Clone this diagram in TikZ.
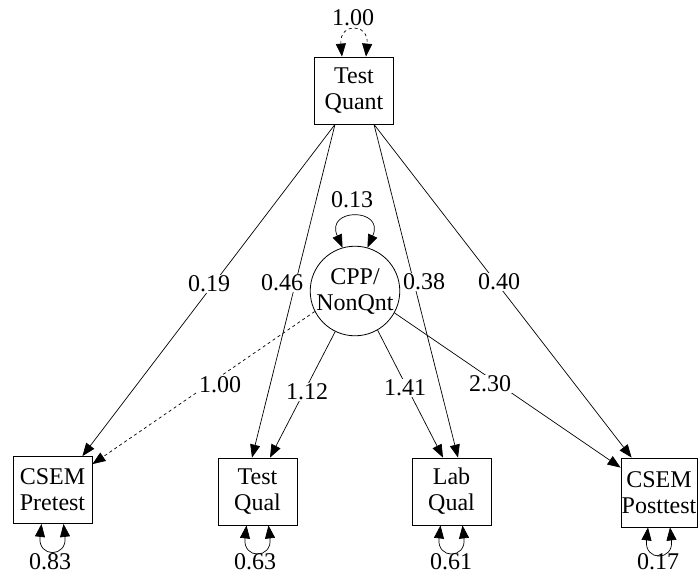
\documentclass[tikz,border=0pt]{standalone}
\usepackage{fontspec}
\setmainfont{Liberation Serif}
\usetikzlibrary{arrows.meta}
\begin{document}
\begin{tikzpicture}[x=1pt,y=-1pt,
  every node/.style={font=\fontsize{24}{26}\selectfont},
  var/.style={draw, line width=0.8pt, align=center, inner sep=0pt,
              minimum width=79pt, minimum height=67pt},
  lat/.style={draw, circle, line width=0.8pt, align=center, inner sep=0pt,
              minimum size=88pt},
  conn/.style={line width=0.7pt, -{Triangle[length=13pt,width=10pt]}},
  varloop/.style={line width=0.7pt,
              {Triangle[length=13pt,width=10pt]}-{Triangle[length=13pt,width=10pt]}},
  fixed/.style={dash pattern=on 3pt off 3pt},
  coef/.style={fill=white, inner sep=1pt},
  loopval/.style={inner sep=0pt}
]
\useasboundingbox (0,0) rectangle (699,574);

% observed and latent variables
\node[var] (tq)   at (354,90.5)  {Test\\Quant};
\node[lat] (cpp)  at (355,291)   {CPP/\\NonQnt};
\node[var] (pre)  at (52.5,490)  {CSEM\\Pretest};
\node[var] (tql)  at (257.5,491.5) {Test\\Qual};
\node[var] (lql)  at (451.5,491.5) {Lab\\Qual};
\node[var, minimum width=76pt, minimum height=69pt] (post) at (659,492.5) {CSEM\\Posttest};

% regression paths from Test Quant
\draw[conn] ([xshift=-19pt]tq.south) -- ([xshift=-10pt]pre.north east);
\draw[conn] ([xshift=-19pt]tq.south) -- ([xshift=-5.5pt]tql.north);
\draw[conn] ([xshift=20pt]tq.south)  -- ([xshift=6.5pt]lql.north);
\draw[conn] ([xshift=20pt]tq.south)  -- ([xshift=11pt]post.north west);

% loadings of the latent factor
\draw[conn, fixed] (cpp.207) -- ([yshift=-8pt]pre.north east);
\draw[conn] (cpp.244) -- ([xshift=12.5pt]tql.north);
\draw[conn] (cpp.300) -- ([xshift=-8.5pt]lql.north);
\draw[conn] (cpp.331) -- ([yshift=-10pt]post.north west);

% path coefficients
\node[coef] (c1) at (209,284) {0.19};
\node[coef] (c2) at (282,283) {0.46};
\node[coef] (c3) at (424,282) {0.38};
\node[coef] (c4) at (499,282) {0.40};
\node[coef] (c5) at (220,385) {1.00};
\node[coef] (c6) at (307,392) {1.12};
\node[coef] (c7) at (405,388) {1.41};
\node[coef] (c8) at (490,384) {2.30};

% variances
\draw[varloop, fixed] ([xshift=-12pt]tq.north) .. controls +(-3,-34) and +(3,-34) .. ([xshift=12pt]tq.north);
\node[loopval] (v0) at (353,18) {1.00};
\draw[varloop] (cpp.106) .. controls +(-18,-40) and +(18,-40) .. (cpp.74);
\node[loopval] (v1) at (352,200) {0.13};
\draw[varloop] ([xshift=-11pt]pre.south) .. controls +(-4,34) and +(4,34) .. ([xshift=11pt]pre.south);
\node[loopval] (v2) at (50,561.5) {0.83};
\draw[varloop] ([xshift=-11pt]tql.south) .. controls +(-4,34) and +(4,34) .. ([xshift=11pt]tql.south);
\node[loopval] (v3) at (255,561.5) {0.63};
\draw[varloop] ([xshift=-11pt]lql.south) .. controls +(-4,34) and +(4,34) .. ([xshift=11pt]lql.south);
\node[loopval] (v4) at (451,561.5) {0.61};
\draw[varloop] ([xshift=-11pt]post.south) .. controls +(-4,34) and +(4,34) .. ([xshift=11pt]post.south);
\node[loopval] (v5) at (658,561.5) {0.17};
\end{tikzpicture}
\end{document}
